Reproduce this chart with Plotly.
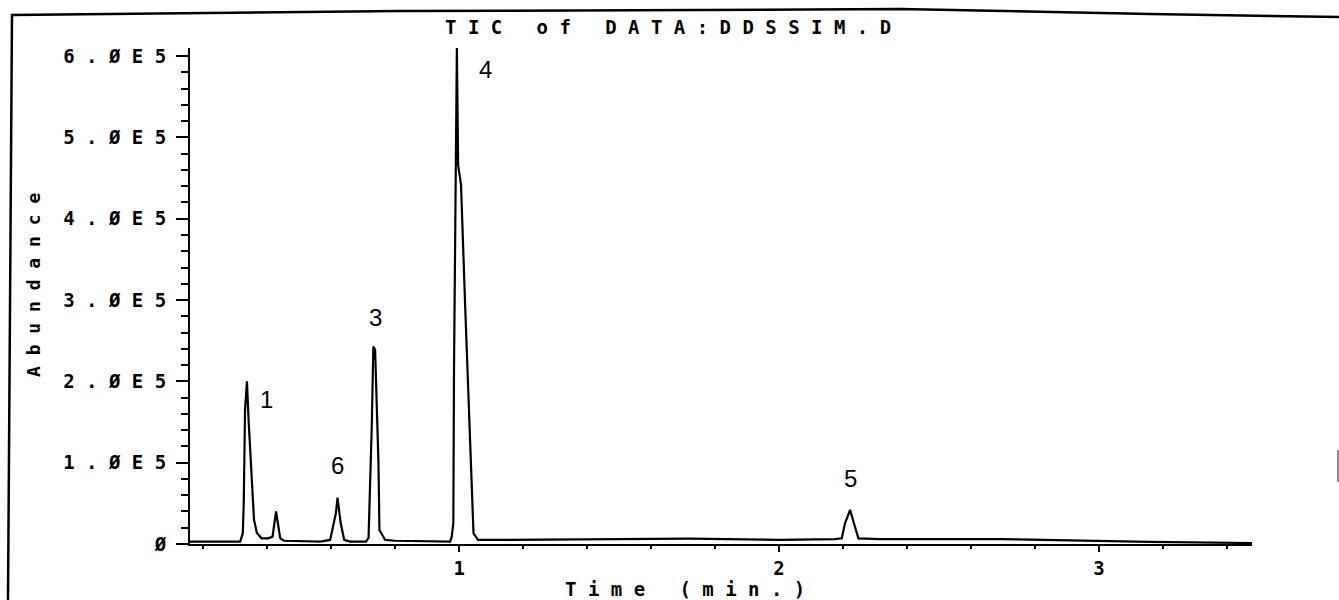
import plotly.graph_objects as go

# Total ion chromatogram trace: retention time (min) and abundance
time_min = [
    0.159, 0.316,
    0.324, 0.327, 0.331, 0.337, 0.342, 0.352, 0.359, 0.368, 0.383, 0.403,
    0.417, 0.428, 0.441, 0.453,
    0.566, 0.597, 0.607, 0.615, 0.620, 0.630, 0.641, 0.659,
    0.709, 0.717, 0.727, 0.732, 0.7375, 0.743, 0.748, 0.751, 0.769, 0.800,
    0.972, 0.977, 0.982, 0.984, 0.990, 0.993, 0.997, 1.006, 1.019, 1.034,
    1.045, 1.059, 1.097,
    1.722, 2.003, 2.175,
    2.196, 2.206, 2.222, 2.234, 2.248,
    2.316, 2.691, 3.159, 3.478,
]
abundance = [
    3000, 3000,
    13500, 50400, 165000, 200000, 153000, 83000, 30000, 13500, 7000, 7000,
    9000, 40000, 7000, 4000,
    3000, 5000, 25500, 38000, 57000, 25500, 5000, 3000,
    3000, 7400, 144000, 243000, 239000, 173000, 99300, 17200, 5000, 4000,
    3000, 9000, 25800, 210000, 456000, 610000, 466000, 442000, 292000, 128000,
    13200, 5000, 5000,
    6500, 5000, 6000,
    7000, 25500, 42000, 25500, 7000,
    6000, 6000, 2500, 1200,
]

# Peak numbers written beside the peaks
peak_ids = ["1", "3", "4", "5", "6"]
peak_label_time = [0.399, 0.7375, 1.081, 2.222, 0.619]
peak_label_abundance = [178000, 279000, 583000, 80000, 96000]

# Axis ticks
y_tick_vals = [0, 100000, 200000, 300000, 400000, 500000, 600000]
y_tick_labels = ["Ø", "1.ØE5", "2.ØE5", "3.ØE5", "4.ØE5", "5.ØE5", "6.ØE5"]
x_tick_vals = [1, 2, 3]
x_tick_labels = ["1", "2", "3"]

title_text = "TIC of DATA:DDSSIM.D"
x_title = "Time (min.)"
y_title = "Abundance"

# Page geometry (pixels)
W, H = 1339, 600
L, R, T, B = 190, 87, 48, 56
PW, PH = W - L - R, H - T - B

NB = "\u00a0"
PLOT_FONT = "DejaVu Sans Mono"
PEAK_FONT = "Liberation Sans"


def spaced(s):
    """Plotter-style lettering: one blank cell between characters."""
    return NB.join(s.replace(" ", NB))


def bold(s):
    return f"<b>{s}</b>"


def px(x):
    return (x - L) / PW


def py(y):
    return (H - B - y) / PH


fig = go.Figure()
fig.add_trace(go.Scatter(
    x=time_min, y=abundance, mode="lines",
    line=dict(color="black", width=2.2),
    hoverinfo="skip", showlegend=False,
))

annotations = []
for pid, t, a in zip(peak_ids, peak_label_time, peak_label_abundance):
    annotations.append(dict(
        x=t, y=a, xref="x", yref="y", text=pid, showarrow=False,
        font=dict(family=PEAK_FONT, size=24, color="black"),
        xanchor="center", yanchor="middle",
    ))

annotations += [
    dict(x=px(668), y=py(27), xref="paper", yref="paper",
         text=bold(spaced(title_text)), showarrow=False,
         font=dict(family=PLOT_FONT, size=19, color="black"),
         xanchor="center", yanchor="middle"),
    dict(x=px(685), y=py(589), xref="paper", yref="paper",
         text=bold(spaced(x_title)), showarrow=False,
         font=dict(family=PLOT_FONT, size=19, color="black"),
         xanchor="center", yanchor="middle"),
    dict(x=px(33), y=py(285), xref="paper", yref="paper",
         text=bold(spaced(y_title)), showarrow=False, textangle=-90,
         font=dict(family=PLOT_FONT, size=18, color="black"),
         xanchor="center", yanchor="middle"),
]

# Page frame drawn by the plotter
frame_path = (
    f"M {px(8)},{py(600)} L {px(12)},{py(15)} L {px(400)},{py(11)} "
    f"L {px(700)},{py(10)} L {px(900)},{py(9)} L {px(1150)},{py(14)} "
    f"L {px(1339)},{py(17)}"
)
shapes = [
    dict(type="path", path=frame_path, xref="paper", yref="paper",
         line=dict(color="black", width=2.5)),
    dict(type="line", x0=px(1338), x1=px(1338), y0=py(450), y1=py(482),
         xref="paper", yref="paper", line=dict(color="#888888", width=2)),
]

fig.update_layout(
    width=W, height=H,
    margin=dict(l=L, r=R, t=T, b=B, pad=0),
    paper_bgcolor="white", plot_bgcolor="white",
    showlegend=False,
    annotations=annotations,
    shapes=shapes,
    xaxis=dict(
        range=[0.159, 3.478],
        showgrid=False, zeroline=False,
        showline=True, linecolor="black", linewidth=2,
        tickmode="array", tickvals=x_tick_vals,
        ticktext=[bold(s) for s in x_tick_labels],
        ticks="outside", ticklen=6, tickwidth=2, tickcolor="black",
        ticklabelstandoff=0,
        tickfont=dict(family=PLOT_FONT, size=19, color="black"),
        minor=dict(tickmode="linear", tick0=0, dtick=0.2, ticks="outside",
                   ticklen=3, tickwidth=2, tickcolor="black", showgrid=False),
    ),
    yaxis=dict(
        range=[0, 610000],
        showgrid=False, zeroline=False,
        showline=True, linecolor="black", linewidth=2,
        tickmode="array", tickvals=y_tick_vals,
        ticktext=[bold(spaced(s)) for s in y_tick_labels],
        ticks="outside", ticklen=12, tickwidth=2, tickcolor="black",
        ticklabelstandoff=6,
        tickfont=dict(family=PLOT_FONT, size=19, color="black"),
        minor=dict(tickmode="linear", tick0=0, dtick=20000, ticks="outside",
                   ticklen=7, tickwidth=2, tickcolor="black", showgrid=False),
    ),
)

fig.write_html("out.html")
